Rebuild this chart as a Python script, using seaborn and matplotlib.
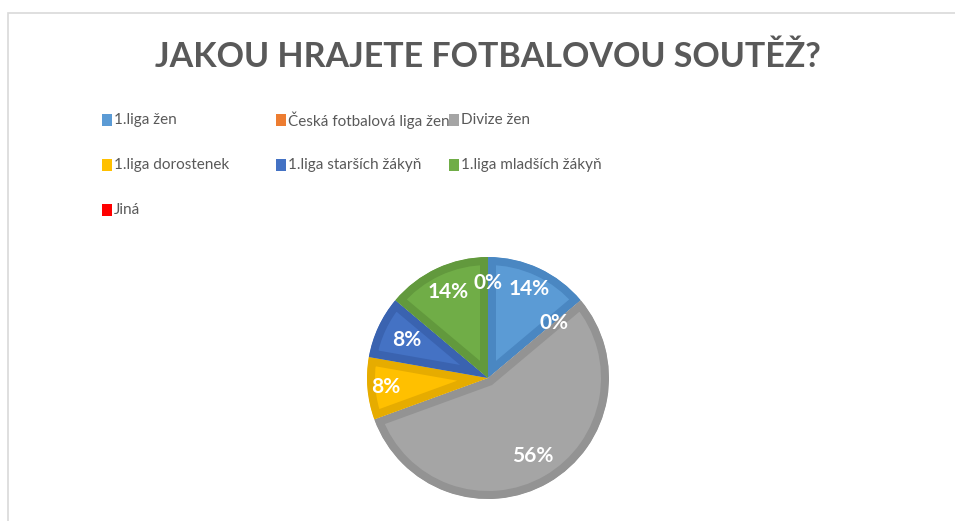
import matplotlib
matplotlib.use('Agg')
import matplotlib.pyplot as plt
from matplotlib.patches import Rectangle
import numpy as np
import seaborn as sns

categories = ['1.liga žen', 'Česká fotbalová liga žen', 'Divize žen',
              '1.liga dorostenek', '1.liga starších žákyň', '1.liga mladších žákyň',
              'Jiná']
counts = [5, 0, 20, 3, 3, 5, 0]
title = 'JAKOU HRAJETE FOTBALOVOU SOUTĚŽ?'

FILL = ['#5B9BD5', '#ED7D31', '#A5A5A5', '#FFC000', '#4472C4', '#70AD47', '#FF0000']
EDGE = ['#4A87C2', '#D46A22', '#939393', '#E6AC00', '#3A63B0', '#62993D', '#E00000']
GREY = '#595959'
# how far from the centre each % label sits (fraction of radius)
label_dist = [0.81, 0.71, 0.74, 0.85, 0.745, 0.78, 0.785]

sns.set_theme(style='white')
plt.rcParams['font.family'] = ['Lato', 'DejaVu Sans']

W, H = 955, 521
fig = plt.figure(figsize=(W / 100, H / 100), dpi=100)

# pie: centre (488, 378) px, radius 121 px
cx, cy, r = 488, 378, 121
ax = fig.add_axes([(cx - r) / W, (H - cy - r) / H, 2 * r / W, 2 * r / H])
palette = sns.color_palette(FILL)
wedges, _, pct = ax.pie(counts, colors=palette, startangle=90, counterclock=False,
                        autopct='%.0f%%', radius=1,
                        wedgeprops=dict(linewidth=11.5),
                        textprops=dict(color='white', fontsize=15, fontweight='bold'))
for w, e, t, d in zip(wedges, EDGE, pct, label_dist):
    w.set_edgecolor(e)
    w.set_clip_on(True)
    w.set_clip_path(w)  # keep the border inside each slice
    mid = np.deg2rad((w.theta1 + w.theta2) / 2)
    t.set_position((d * np.cos(mid), d * np.sin(mid)))
ax.set_xlim(-1, 1)
ax.set_ylim(-1, 1)
ax.axis('off')

fig.text(cx / W, 1 - 57 / H, title, ha='center', va='center',
         fontsize=24.5, fontweight='bold', color=GREY)

# legend, laid out like the spreadsheet one: 3 per row
for i, (lab, col) in enumerate(zip(categories, FILL)):
    x = 102 + 173.5 * (i % 3)
    y = 120 + 45 * (i // 3)
    fig.add_artist(Rectangle((x / W, 1 - (y + 5.5) / H), 10 / W, 11 / H,
                             transform=fig.transFigure, color=col, lw=0))
    fig.text((x + 12) / W, 1 - y / H, lab, ha='left', va='center',
             fontsize=11, color=GREY)

# thin chart frame
fig.add_artist(Rectangle((7.5 / W, -0.1), 1.1, 1.1 - 12.5 / H,
                         transform=fig.transFigure, fill=False,
                         ec='#D9D9D9', lw=1.2))

fig.savefig('out.png', dpi=100)
